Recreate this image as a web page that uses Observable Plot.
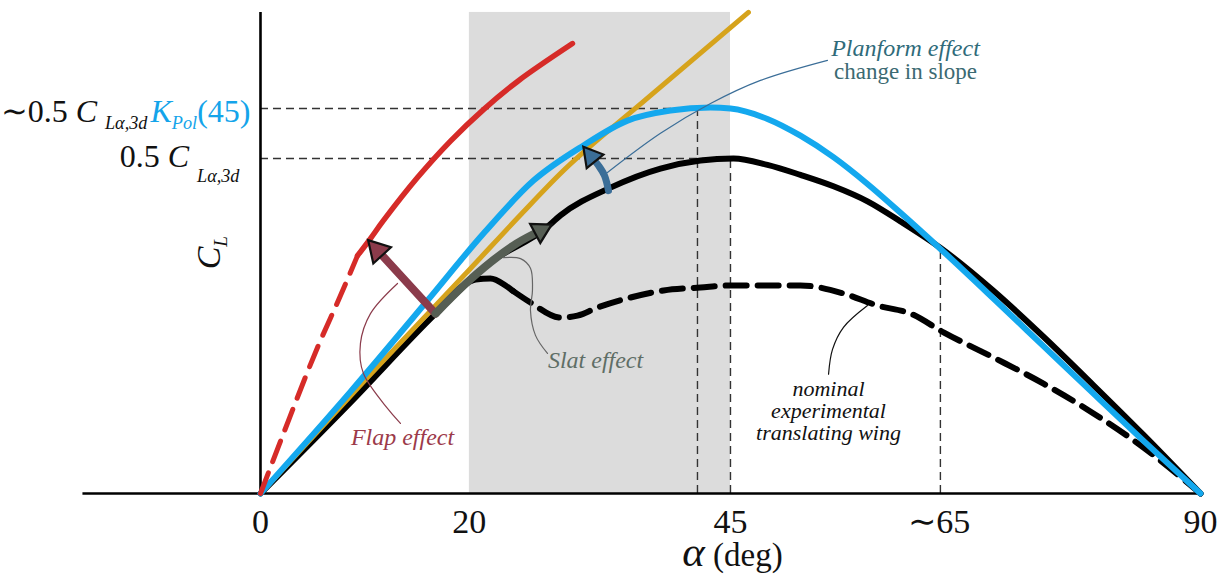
<!DOCTYPE html>
<html><head><meta charset="utf-8">
<script src="https://cdn.jsdelivr.net/npm/d3@7"></script>
<script src="https://cdn.jsdelivr.net/npm/@observablehq/plot@0.6"></script>
<style>body{margin:0;background:#fff}svg{display:block}</style>
</head><body><div id="chart"></div>
<script>
// ---------- data (alpha in deg, CL in units of 0.5 CLa,3d) ----------
const xTicks = [0, 20, 45, 65, 90];
const xTickLabels = ["0", "20", "45", "∼65", "90"];
const shadeAlpha = [20, 45];
const axisAlpha = [-17, 90];
const axisCL = [0, 1.436];
const levelKpol = 1.149, levelCL = 1.0, alphaKpol = 41.84, alphaCross = 65.1, clCross = 0.735;

const blackAlpha = [0, 8.62, 16.76, 22.02, 27.29, 28.72, 33.51, 38.30, 42.13, 45.29, 48.54, 51.70, 54.86, 58.12, 61.28, 65.11, 70.18, 74.97, 79.76, 84.55, 90];
const blackCL    = [0, 0.272, 0.537, 0.690, 0.791, 0.830, 0.913, 0.970, 0.994, 1.0, 0.981, 0.951, 0.917, 0.872, 0.812, 0.733, 0.605, 0.468, 0.323, 0.175, 0];

const blueAlpha = [0, 8.62, 15.99, 21.35, 26.14, 30.93, 35.14, 39.26, 43.09, 45.0, 48.54, 51.70, 54.86, 58.12, 61.28, 65.11, 70.18, 74.97, 79.76, 84.55, 90];
const blueCL    = [0, 0.304, 0.576, 0.776, 0.934, 1.039, 1.113, 1.143, 1.152, 1.149, 1.118, 1.068, 1.004, 0.924, 0.838, 0.730, 0.582, 0.440, 0.298, 0.157, 0];

const goldAlpha = [0, 10.24, 20, 25, 28.72, 37.05, 46.72];
const goldCL    = [0, 0.346, 0.668, 0.835, 0.955, 1.180, 1.436];

const redDashAlpha = [0, 2.20, 5.46, 7.66, 9.29];
const redDashCL    = [0, 0.179, 0.436, 0.591, 0.710];
const redAlpha = [9.29, 10.53, 11.78, 15.03, 18.19, 21.35, 24.61, 29.87];
const redCL    = [0.710, 0.761, 0.815, 0.943, 1.052, 1.146, 1.230, 1.343];

const expAlpha = [16.76, 19.15, 20.59, 22.02, 23.46, 24.2, 25.85, 28.72, 30.35, 32.27, 35.43, 38.59, 42.13, 45.0, 49.79, 51.70, 55.82, 59.08, 62.24, 65.40, 70.18, 74.97, 79.76, 84.55, 90];
const expCL    = [0.537, 0.615, 0.639, 0.642, 0.621, 0.604, 0.570, 0.525, 0.531, 0.555, 0.585, 0.606, 0.615, 0.621, 0.621, 0.621, 0.597, 0.561, 0.537, 0.481, 0.406, 0.328, 0.239, 0.137, 0];
const expSolidEnd = 24.2;

// effect arrows (shaft points, last point = head centre)
const flapAlpha = [16.76, 11.20];
const flapCL    = [0.537, 0.726];
const slatAlpha = [16.76, 19.5, 22.02, 24.5, 26.83];
const slatCL    = [0.537, 0.622, 0.690, 0.746, 0.785];
const planAlpha = [33.32, 32.94, 32.36, 31.66];
const planCL    = [0.904, 0.949, 0.979, 1.006];

// leader lines
const flapLeadAlpha = [13.40, 9.86, 9.57, 10.53, 13.12];
const flapLeadCL    = [0.209, 0.358, 0.448, 0.537, 0.627];
const slatLeadAlpha = [23.27, 24.9, 25.85, 26.04, 25.85, 26.33, 27.48];
const slatLeadCL    = [0.704, 0.701, 0.672, 0.606, 0.546, 0.472, 0.418];
const planLeadAlpha = [33.22, 38.30, 43.09, 47.87, 54.29];
const planLeadCL    = [0.958, 1.075, 1.164, 1.233, 1.293];
const nomLeadAlpha  = [54.39, 54.77, 55.82, 58.12];
const nomLeadCL     = [0.356, 0.430, 0.496, 0.561];

// texts
const annotTexts = ["Flap effect", "Slat effect", "Planform effect"];
const annotAlpha = [13.60, 32.08, 61.76];
const annotCL    = [0.167, 0.397, 1.328];
const annotColors = ["#9c3a4a", "#5f6e66", "#2f6b7a"];

// ---------- scales ----------
const W = 1226, H = 576;
const xDomain = [-24.894, 92.494];
const yDomain = [-0.2478, 1.4716];
const kx = W / (xDomain[1] - xDomain[0]);
const ky = H / (yDomain[1] - yDomain[0]);

const pts = (a, c) => a.map((x, i) => ({x, y: c[i]}));
const black = pts(blackAlpha, blackCL);
const blue = pts(blueAlpha, blueCL);
const gold = pts(goldAlpha, goldCL);
const redDash = pts(redDashAlpha, redDashCL);
const red = pts(redAlpha, redCL);
const exp = pts(expAlpha, expCL);
const flap = pts(flapAlpha, flapCL);
const slat = pts(slatAlpha, slatCL);
const plan = pts(planAlpha, planCL);

function head(p, r, fill) {
  const a = p[p.length - 2], b = p[p.length - 1];
  const dx = (b.x - a.x) * kx, dy = -(b.y - a.y) * ky;
  const rot = Math.atan2(dx, -dy) * 180 / Math.PI;
  return Plot.dot([b], {x: "x", y: "y", symbol: "triangle", r, rotate: rot, fill, stroke: "#111", strokeWidth: 2.2});
}

const guideH = [{y: levelKpol, x1: 0, x2: alphaKpol}, {y: levelCL, x1: 0, x2: 45}];
const guideV = [{x: alphaKpol, y2: levelKpol}, {x: 45, y2: levelCL}, {x: alphaCross, y2: clCross}];
const dashStyle = {stroke: "#333", strokeWidth: 1.4, strokeDasharray: "8,5"};

const richLabels = [
  {x: -10.82, y: 1.139, t: "∼0.5 *C* _{Lα,3d}", c: "#111"},
  {x: -0.96, y: 1.139, t: "*K*_{Pol}(45)", c: "#14a4ea"},
  {x: -2.01, y: 1.0045, t: "0.5 *C* __{Lα,3d}", c: "#111"}
];

const chart = Plot.plot({
  width: W, height: H, margin: 0,
  x: {domain: xDomain, axis: null},
  y: {domain: yDomain, axis: null},
  style: {fontFamily: "'Liberation Serif', serif", background: "#fff"},
  marks: [
    Plot.rect([shadeAlpha], {x1: d => d[0], x2: d => d[1], y1: axisCL[0], y2: axisCL[1], fill: "#dcdcdc"}),
    Plot.ruleY(guideH, {y: "y", x1: "x1", x2: "x2", ...dashStyle}),
    Plot.ruleX(guideV, {x: "x", y1: 0, y2: "y2", ...dashStyle}),
    Plot.ruleY([0], {x1: axisAlpha[0], x2: axisAlpha[1], stroke: "#000", strokeWidth: 2.6}),
    Plot.ruleX([0], {y1: axisCL[0], y2: axisCL[1], stroke: "#000", strokeWidth: 2.6}),
    Plot.line(black, {x: "x", y: "y", stroke: "#000", strokeWidth: 6, curve: "monotone-x"}),
    Plot.line(exp.filter(d => d.x <= expSolidEnd), {x: "x", y: "y", stroke: "#000", strokeWidth: 6, curve: "monotone-x"}),
    Plot.line(exp.filter(d => d.x >= expSolidEnd), {x: "x", y: "y", stroke: "#000", strokeWidth: 6, curve: "monotone-x", strokeDasharray: "21,11"}),
    Plot.line(gold, {x: "x", y: "y", stroke: "#d6a31c", strokeWidth: 5, curve: "monotone-x"}),
    Plot.line(blue, {x: "x", y: "y", stroke: "#14a8ee", strokeWidth: 6, curve: "monotone-x"}),
    Plot.line(redDash, {x: "x", y: "y", stroke: "#d62b28", strokeWidth: 5, curve: "monotone-x", strokeDasharray: "22,12"}),
    Plot.line(red, {x: "x", y: "y", stroke: "#d62b28", strokeWidth: 5.5, curve: "catmull-rom"}),
    // effect arrows
    Plot.line(flap, {x: "x", y: "y", stroke: "#8b3b4b", strokeWidth: 8}),
    head(flap, 8.9, "#8b3b4b"),
    Plot.line(slat, {x: "x", y: "y", stroke: "#565e54", strokeWidth: 8, curve: "catmull-rom"}),
    head(slat, 8, "#565e54"),
    Plot.line(plan, {x: "x", y: "y", stroke: "#3b6e98", strokeWidth: 7, curve: "catmull-rom"}),
    head(plan, 8, "#3b6e98"),
    // leaders
    Plot.line(pts(flapLeadAlpha, flapLeadCL), {x: "x", y: "y", stroke: "#8b3b4b", strokeWidth: 1.2, curve: "catmull-rom"}),
    Plot.line(pts(slatLeadAlpha, slatLeadCL), {x: "x", y: "y", stroke: "#666", strokeWidth: 1.2, curve: "catmull-rom"}),
    Plot.line(pts(planLeadAlpha, planLeadCL), {x: "x", y: "y", stroke: "#3b6e98", strokeWidth: 1.2, curve: "catmull-rom"}),
    Plot.line(pts(nomLeadAlpha, nomLeadCL), {x: "x", y: "y", stroke: "#111", strokeWidth: 1.2, curve: "catmull-rom"}),
    // texts
    Plot.text(xTicks, {x: d => d, y: 0, dy: 29, text: (d, i) => xTickLabels[i], fontSize: 34, fill: "#111"}),
    Plot.text(annotTexts, {x: (d, i) => annotAlpha[i], y: (d, i) => annotCL[i], text: d => d, fill: (d, i) => annotColors[i], fontSize: 24, fontStyle: "italic"}),
    Plot.text(["change in slope"], {x: annotAlpha[2], y: 1.258, text: d => d, fill: "#3b6a72", fontSize: 23}),
    Plot.text(["nominal\nexperimental\ntranslating wing"], {x: 54.39, y: 0.245, text: d => d, fill: "#111", fontSize: 22, fontStyle: "italic", lineHeight: 1.0}),
    Plot.text(richLabels, {x: "x", y: "y", text: "t", fill: "c", textAnchor: "end", fontSize: 32}),
    Plot.text(["!{α} (deg)"], {x: 45.19, y: 0, dy: 62, text: d => d, fontSize: 33, fill: "#111"}),
    Plot.text(["*C*_{L}"], {x: -4.88, y: 0.719, text: d => d, rotate: -90, fontSize: 34, fill: "#111"})
  ]
});
document.getElementById("chart").append(chart);

// rich text: *x* italic, _{x} subscript, __{x} lower subscript, !{x} large italic
const root = chart.tagName.toLowerCase() === "svg" ? chart : chart.querySelector("svg");
const markup = /(\*[^*]+\*|__?\{[^}]+\}|!\{[^}]+\})/;
Array.from(root.querySelectorAll("text")).forEach(el => {
  const s = el.textContent;
  if (!markup.test(s) || el.querySelector("tspan")) return;
  const fs = parseFloat(getComputedStyle(el).fontSize) || 32;
  el.textContent = "";
  const t = d3.select(el);
  const parts = s.split(markup).filter(p => p !== "");
  let back = 0;
  for (const p of parts) {
    const sp = t.append("tspan");
    if (back) { sp.attr("dy", -back); back = 0; }
    if (p.startsWith("*")) sp.attr("font-style", "italic").text(p.slice(1, -1));
    else if (p.startsWith("__{")) { const sh = 0.46 * fs; sp.attr("font-style", "italic").attr("font-size", 0.57 * fs).attr("dy", sh).text(p.slice(3, -1)); back = sh; }
    else if (p.startsWith("_{")) { const sh = 0.2 * fs; sp.attr("font-style", "italic").attr("font-size", 0.57 * fs).attr("dy", sh).text(p.slice(2, -1)); back = sh; }
    else if (p.startsWith("!{")) sp.attr("font-style", "italic").attr("font-size", 1.3 * fs).text(p.slice(2, -1));
    else sp.text(p);
  }
});
</script></body></html>
